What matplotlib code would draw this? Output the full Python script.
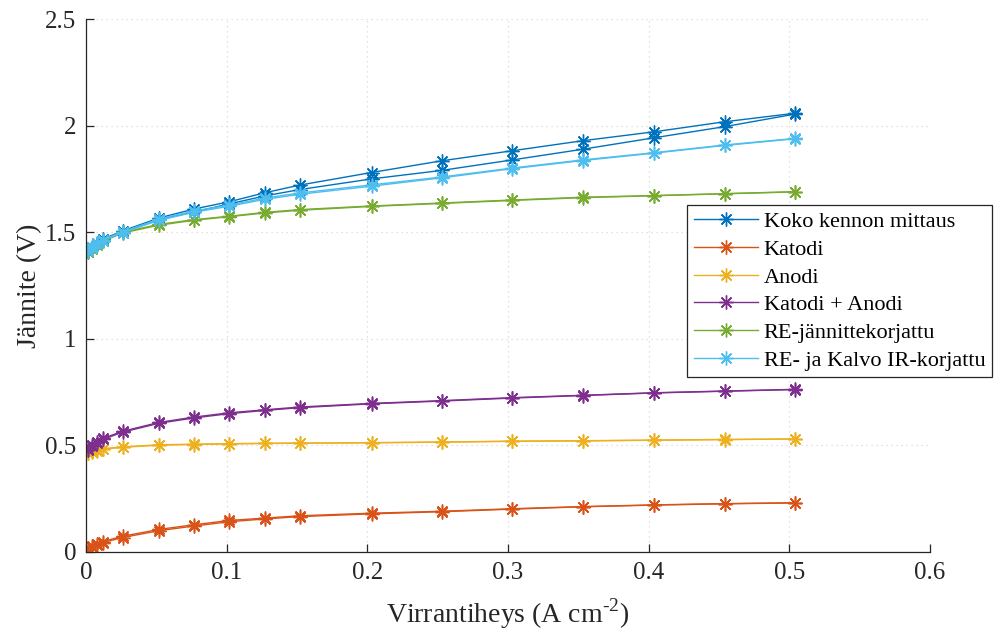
import matplotlib
matplotlib.use("Agg")
import matplotlib.pyplot as plt

plt.rcParams['font.family'] = ['Liberation Serif', 'DejaVu Serif']
plt.rcParams['mathtext.fontset'] = 'custom'
plt.rcParams['mathtext.rm'] = 'Liberation Serif'

# current density (A cm^-2)
current = [0.0015, 0.004, 0.008, 0.012, 0.026, 0.052, 0.077, 0.102, 0.127,
           0.152, 0.203, 0.253, 0.303, 0.353, 0.404, 0.454, 0.504]

# each series measured twice (two sweeps)
koko_a = [1.412, 1.430, 1.449, 1.468, 1.506, 1.567, 1.609, 1.643, 1.685,
          1.721, 1.780, 1.835, 1.882, 1.929, 1.971, 2.018, 2.058]
koko_b = [1.405, 1.425, 1.443, 1.462, 1.500, 1.560, 1.595, 1.633, 1.670,
          1.700, 1.750, 1.790, 1.839, 1.889, 1.943, 1.995, 2.054]
katodi_a = [0.019, 0.029, 0.039, 0.049, 0.074, 0.106, 0.128, 0.148, 0.159,
            0.170, 0.182, 0.191, 0.203, 0.213, 0.221, 0.227, 0.231]
katodi_b = [0.014, 0.024, 0.034, 0.044, 0.068, 0.100, 0.122, 0.142, 0.155,
            0.166, 0.179, 0.189, 0.201, 0.212, 0.220, 0.226, 0.230]
anodi_a = [0.466, 0.472, 0.479, 0.485, 0.493, 0.503, 0.506, 0.508, 0.510,
           0.511, 0.513, 0.516, 0.520, 0.522, 0.525, 0.528, 0.530]
anodi_b = [0.463, 0.469, 0.476, 0.482, 0.491, 0.501, 0.504, 0.507, 0.509,
           0.510, 0.512, 0.515, 0.519, 0.521, 0.524, 0.527, 0.530]
summa_a = [0.485, 0.502, 0.517, 0.533, 0.566, 0.608, 0.633, 0.653, 0.667,
           0.680, 0.697, 0.710, 0.724, 0.735, 0.747, 0.755, 0.763]
summa_b = [0.480, 0.498, 0.512, 0.528, 0.562, 0.604, 0.629, 0.649, 0.664,
           0.677, 0.695, 0.708, 0.722, 0.734, 0.746, 0.754, 0.762]
re_a = [1.412, 1.426, 1.445, 1.460, 1.500, 1.537, 1.559, 1.575, 1.593,
        1.606, 1.623, 1.637, 1.651, 1.664, 1.672, 1.681, 1.690]
re_b = [1.408, 1.423, 1.441, 1.457, 1.496, 1.533, 1.556, 1.573, 1.590,
        1.603, 1.621, 1.635, 1.649, 1.662, 1.671, 1.680, 1.689]
reir_a = [1.416, 1.432, 1.450, 1.465, 1.502, 1.562, 1.600, 1.627, 1.660,
          1.684, 1.722, 1.759, 1.801, 1.839, 1.873, 1.909, 1.940]
reir_b = [1.412, 1.428, 1.446, 1.461, 1.498, 1.556, 1.594, 1.622, 1.654,
          1.678, 1.716, 1.755, 1.798, 1.836, 1.871, 1.907, 1.938]

labels = ["Koko kennon mittaus", "Katodi", "Anodi", "Katodi + Anodi",
          "RE-jännittekorjattu", "RE- ja Kalvo IR-korjattu"]
colors = ["#0072BD", "#D95319", "#EDB120", "#7E2F8E", "#77AC30", "#4DBEEE"]
series = [(koko_a, koko_b), (katodi_a, katodi_b), (anodi_a, anodi_b),
          (summa_a, summa_b), (re_a, re_b), (reir_a, reir_b)]

xticks = [0, 0.1, 0.2, 0.3, 0.4, 0.5, 0.6]
yticks = [0, 0.5, 1, 1.5, 2, 2.5]

fig = plt.figure(figsize=(9.95, 6.35), dpi=100)
ax = fig.add_axes([86/995, 1-552/635, (930-86)/995, (552-19)/635])

marker = (8, 2, 0)
handles = []
for (ya, yb), lab, c in zip(series, labels, colors):
    h, = ax.plot(current, ya, color=c, lw=1.0, marker=marker, ms=10,
                 mew=1.0, label=lab)
    ax.plot(current, yb, color=c, lw=1.0, marker=marker, ms=10, mew=1.0)
    handles.append(h)

ax.set_xlim(0, 0.6)
ax.set_ylim(0, 2.5)
ax.set_xticks(xticks)
ax.set_xticklabels([f"{t:g}" for t in xticks])
ax.set_yticks(yticks)
ax.set_yticklabels([f"{t:g}" for t in yticks])
ax.grid(True, linestyle=(0, (1, 3)), color="#d8d8d8", lw=0.9)
ax.set_axisbelow(True)
for s in ["top", "right"]:
    ax.spines[s].set_visible(False)
for s in ["left", "bottom"]:
    ax.spines[s].set_color("#262626")
    ax.spines[s].set_linewidth(0.9)
ax.tick_params(direction="in", length=6, width=0.9, colors="#262626",
               labelsize=18, labelcolor="#262626", pad=7)

ax.set_xlabel(r"Virrantiheys (A cm$^{\text{-2}}$)", fontsize=20, color="#262626",
              labelpad=9)
ax.set_ylabel("Jännite (V)", fontsize=20, color="#262626", labelpad=2)

leg = fig.legend(handles=handles, loc="upper left",
                 bbox_to_anchor=(687/995, 1-205/635), fontsize=16,
                 frameon=True, fancybox=False, edgecolor="#262626",
                 framealpha=1, handlelength=2.9, borderpad=0.3,
                 labelspacing=0.32, handletextpad=0.25, borderaxespad=0)
leg.get_frame().set_linewidth(0.9)

fig.savefig("out.png", dpi=100)
